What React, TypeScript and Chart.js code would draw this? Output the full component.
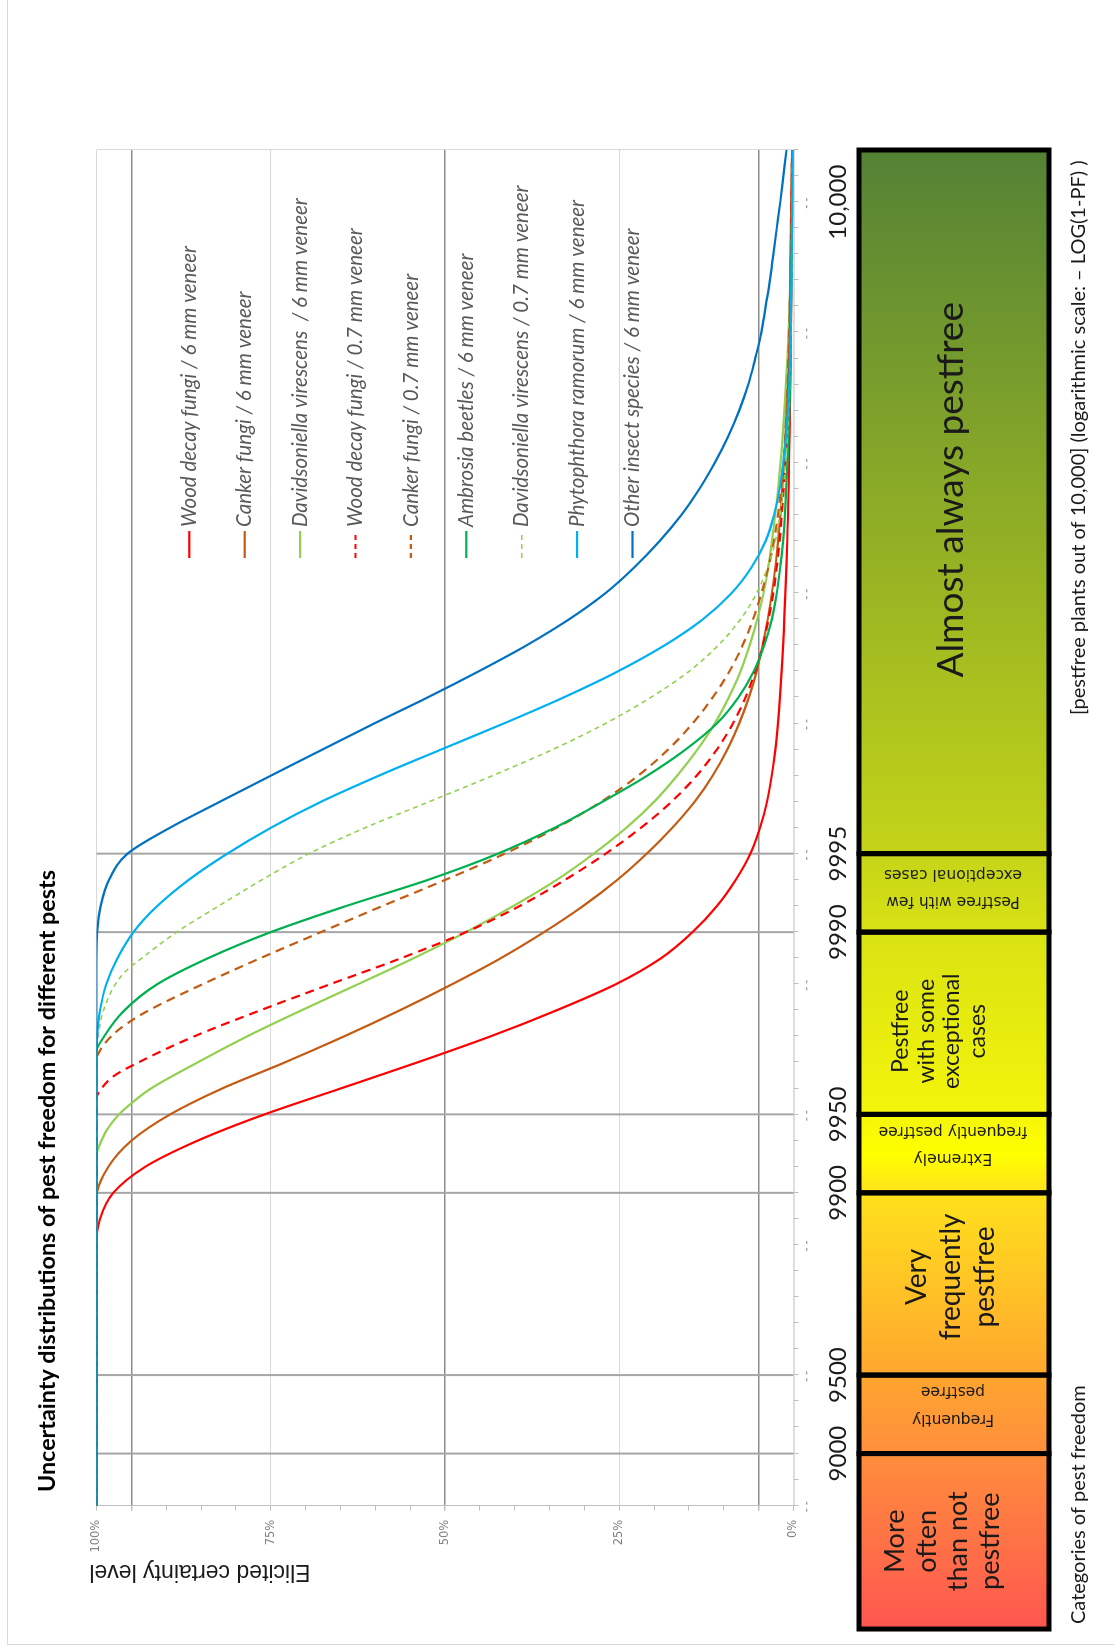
import React, { useEffect, useRef } from "react";
import { Chart, registerables } from "chart.js";

Chart.register(...registerables);

// ---------------- texts ----------------
const TITLE = "Uncertainty distributions of pest freedom for different pests";
const Y_TITLE = "Elicited certainty level";
const X_TITLE = "[pestfree plants out of 10,000] (logarithmic scale: \u2013 LOG(1-PF) )";
const CAT_TITLE = "Categories of pest freedom";

// ---------------- axes ----------------
// x value t = -log10(1 - PF/10000)
const T_MIN = 0.8;
const T_MAX = 6.0;
const X_TICK_POS = [1, 1.30103, 2, 2.30103, 3, 3.30103, 5.8];
const X_TICK_LABELS = ["9000", "9500", "9900", "9950", "9990", "9995", "10,000"];
const X_GRID_POS = [1, 1.30103, 2, 2.30103, 3, 3.30103];
const X_MINOR_STEP = 0.1;
const X_MAJOR_STEP = 0.5;
const Y_STEP = 5;
const Y_LABEL_STEP = 25;

// ---------------- categories ----------------
const CAT_EDGES = [0.327, 1, 1.30103, 2, 2.30103, 3, 3.30103, 6];
const CAT_LINES = [
  ["More", "often", "than not", "pestfree"],
  ["Frequently", "pestfree"],
  ["Very", "frequently", "pestfree"],
  ["Extremely", "frequently pestfree"],
  ["Pestfree", "with some", "exceptional", "cases"],
  ["Pestfree with few", "exceptional cases"],
  ["Almost always pestfree"],
];
const GRAD_T = [0.327, 1.0, 1.30103, 2.0, 2.15, 2.30103, 3.0, 3.30103, 6.0];
const GRAD_C = ["#ff5650", "#ff8e3c", "#ffa62e", "#ffe11c", "#ffff00", "#f4f50a", "#d9e213", "#c4d418", "#548235"];

// ---------------- series ----------------
const SERIES_NAMES = [
  "Wood decay fungi / 6 mm veneer",
  "Canker fungi / 6 mm veneer",
  "Davidsoniella virescens  / 6 mm veneer",
  "Wood decay fungi / 0.7 mm veneer",
  "Canker fungi / 0.7 mm veneer",
  "Ambrosia beetles / 6 mm veneer",
  "Davidsoniella virescens / 0.7 mm veneer",
  "Phytophthora ramorum / 6 mm veneer",
  "Other insect species / 6 mm veneer",
];
const SERIES_COLORS = ["#ff0000", "#c55a11", "#92d050", "#ff0000", "#c55a11", "#00b050", "#92d050", "#00b0f0", "#0070c0"];
const SERIES_DASHED = [false, false, false, true, true, false, true, false, false];

const WOOD6_T = [0.8, 1.8, 1.9, 2.0, 2.1, 2.2, 2.3, 2.4, 2.5, 2.6, 2.7, 2.8, 2.9, 3.0, 3.1, 3.2, 3.3, 3.4, 3.5, 3.7, 4.0, 4.5, 5.0, 5.5, 6.0];
const WOOD6_P = [100, 100, 99.5, 97.6, 93.0, 85.5, 76.0, 65.0, 54.0, 43.5, 34.0, 25.5, 19.0, 14.5, 11.0, 8.3, 6.2, 4.8, 3.8, 2.6, 1.7, 0.9, 0.5, 0.3, 0.15];

const CANKER6_T = [0.8, 1.98, 2.1, 2.2, 2.3, 2.4, 2.5, 2.6, 2.7, 2.8, 2.9, 3.0, 3.1, 3.2, 3.3, 3.4, 3.5, 3.6, 3.7, 3.8, 3.9, 4.0, 4.2, 4.5, 5.0, 5.5, 6.0];
const CANKER6_P = [100, 100, 98.3, 95.0, 89.5, 82.0, 73.0, 64.5, 56.5, 49.0, 42.0, 35.8, 30.2, 25.3, 21.1, 17.4, 14.2, 11.6, 9.5, 7.8, 6.4, 5.3, 3.7, 2.2, 1.0, 0.5, 0.2];

const DAVID6_T = [0.8, 2.14, 2.2, 2.25, 2.3, 2.35, 2.4, 2.5, 2.6, 2.7, 2.8, 2.9, 3.0, 3.1, 3.2, 3.3, 3.4, 3.5, 3.6, 3.7, 3.8, 3.9, 4.0, 4.1, 4.2, 4.3, 4.4, 4.5, 4.7, 5.0, 5.3, 5.6, 6.0];
const DAVID6_P = [100, 100, 99.3, 98.3, 96.8, 94.7, 92.2, 85.5, 78.4, 70.6, 62.5, 54.5, 47.0, 40.2, 34.0, 28.7, 24.0, 20.0, 16.7, 13.8, 11.3, 9.3, 7.6, 6.3, 5.2, 4.3, 3.6, 3.1, 2.2, 1.3, 0.7, 0.3, 0.1];

const WOOD07_T = [0.8, 2.36, 2.4, 2.45, 2.5, 2.6, 2.7, 2.8, 2.9, 3.0, 3.1, 3.2, 3.3, 3.4, 3.5, 3.6, 3.7, 3.8, 3.9, 4.0, 4.1, 4.2, 4.3, 4.4, 4.5, 4.75, 5.0, 5.5, 6.0];
const WOOD07_P = [100, 100, 99.3, 97.4, 94.0, 86.0, 76.5, 66.5, 56.3, 47.0, 39.3, 32.8, 27.0, 21.9, 17.5, 13.9, 11.0, 8.7, 6.9, 5.5, 4.4, 3.6, 2.9, 2.4, 2.0, 1.3, 0.8, 0.4, 0.2];

const CANKER07_T = [0.8, 2.51, 2.55, 2.6, 2.65, 2.7, 2.8, 2.9, 3.0, 3.1, 3.2, 3.3, 3.4, 3.5, 3.6, 3.7, 3.8, 3.9, 4.0, 4.1, 4.2, 4.3, 4.4, 4.5, 4.75, 5.0, 5.5, 6.0];
const CANKER07_P = [100, 100, 99.4, 97.9, 95.6, 92.5, 84.8, 76.5, 67.8, 59.0, 50.0, 41.5, 34.0, 27.6, 22.3, 18.0, 14.5, 11.6, 9.2, 7.3, 5.8, 4.6, 3.6, 2.8, 1.6, 1.0, 0.45, 0.2];

const AMBROSIA_T = [0.8, 2.54, 2.6, 2.7, 2.8, 2.9, 3.0, 3.1, 3.2, 3.3, 3.4, 3.5, 3.6, 3.7, 3.8, 3.9, 4.0, 4.1, 4.2, 4.3, 4.4, 4.5, 5.0, 5.5, 6.0];
const AMBROSIA_P = [100, 100, 98.9, 96.0, 91.3, 84.0, 75.0, 64.2, 52.5, 42.5, 34.3, 27.4, 21.0, 15.5, 11.0, 7.9, 5.7, 4.2, 3.1, 2.4, 1.9, 1.5, 0.6, 0.3, 0.1];

const DAVID07_T = [0.8, 2.55, 2.6, 2.7, 2.8, 2.85, 2.9, 3.0, 3.1, 3.2, 3.3, 3.4, 3.5, 3.6, 3.7, 3.8, 3.9, 4.0, 4.1, 4.2, 4.3, 4.4, 4.5, 4.75, 5.0, 5.5, 6.0];
const DAVID07_P = [100, 100, 99.8, 99.0, 97.3, 95.8, 93.5, 88.5, 82.5, 76.3, 69.6, 61.5, 52.3, 43.2, 34.6, 27.0, 20.5, 15.0, 10.8, 7.6, 5.3, 3.7, 2.6, 1.3, 0.7, 0.25, 0.1];

const PHYTO_T = [0.8, 2.5, 2.6, 2.7, 2.8, 2.9, 3.0, 3.1, 3.2, 3.3, 3.4, 3.5, 3.6, 3.7, 3.8, 3.9, 4.0, 4.1, 4.2, 4.3, 4.4, 4.5, 4.6, 4.75, 5.0, 5.5, 6.0];
const PHYTO_P = [100, 100, 99.9, 99.5, 98.6, 97.0, 94.7, 91.3, 86.8, 81.3, 75.0, 67.8, 59.5, 50.6, 41.6, 33.0, 25.2, 18.5, 13.0, 8.9, 6.0, 4.0, 2.8, 1.7, 0.8, 0.3, 0.1];

const OTHER_T = [0.8, 2.9, 3.0, 3.1, 3.2, 3.3, 3.4, 3.5, 3.6, 3.7, 3.8, 3.9, 4.0, 4.1, 4.2, 4.3, 4.4, 4.5, 4.6, 4.7, 4.8, 4.9, 5.0, 5.1, 5.2, 5.3, 5.4, 5.5, 5.6, 5.7, 5.8, 5.9, 6.0];
const OTHER_P = [100, 100, 99.9, 99.4, 98.2, 95.6, 89.5, 82.3, 75.0, 67.6, 60.2, 52.5, 45.2, 38.3, 32.2, 27.0, 22.8, 19.2, 16.1, 13.5, 11.3, 9.4, 7.8, 6.5, 5.5, 4.6, 4.0, 3.4, 2.9, 2.4, 1.9, 1.45, 1.0];

const SERIES_T = [WOOD6_T, CANKER6_T, DAVID6_T, WOOD07_T, CANKER07_T, AMBROSIA_T, DAVID07_T, PHYTO_T, OTHER_T];
const SERIES_P = [WOOD6_P, CANKER6_P, DAVID6_P, WOOD07_P, CANKER07_P, AMBROSIA_P, DAVID07_P, PHYTO_P, OTHER_P];

// ---------------- layout (unrotated frame) ----------------
const W = 1648;
const H = 1114;
const CALIBRI = '"Lato", "Open Sans", sans-serif';
const VERDANA = '"DejaVu Sans", sans-serif';

function dashFor(i: number): number[] {
  if (!SERIES_DASHED[i]) return [];
  return SERIES_COLORS[i] === "#92d050" ? [5, 4] : [9, 6];
}
function widthFor(i: number): number {
  return SERIES_DASHED[i] && SERIES_COLORS[i] === "#92d050" ? 1.6 : 2.2;
}

function txt(
  ctx: CanvasRenderingContext2D,
  s: string,
  x: number,
  y: number,
  font: string,
  color: string,
  align: CanvasTextAlign = "left",
  rot = 0,
  maxW?: number
) {
  ctx.save();
  ctx.translate(x, y);
  ctx.rotate(rot);
  ctx.font = font;
  ctx.fillStyle = color;
  ctx.textAlign = align;
  ctx.textBaseline = "middle";
  if (maxW) {
    const w = ctx.measureText(s).width;
    if (w > maxW) {
      ctx.scale(maxW / w, 1);
    }
  }
  ctx.fillText(s, 0, 0);
  ctx.restore();
}

const CAT_STYLE = [
  { size: 27, lh: 31.5, rot: false, vc: 943, du: 0, font: CALIBRI },
  { size: 15.5, lh: 28, rot: true, vc: 953, du: 9.7, font: VERDANA },
  { size: 28, lh: 34, rot: false, vc: 951, du: 7, font: CALIBRI },
  { size: 15.5, lh: 27, rot: true, vc: 953, du: 8.7, font: VERDANA },
  { size: 23, lh: 25.5, rot: false, vc: 939, du: -8, font: CALIBRI },
  { size: 15.5, lh: 27, rot: true, vc: 953, du: 5, font: VERDANA },
  { size: 37, lh: 40, rot: false, vc: 951, du: 12, font: CALIBRI },
];

const decor = {
  id: "decor",
  beforeDatasetsDraw(chart: any) {
    const { ctx, chartArea: a, scales } = chart;
    const x = scales.x;
    ctx.save();
    // category grid lines
    ctx.strokeStyle = "#a6a6a6";
    ctx.lineWidth = 2;
    for (const t of X_GRID_POS) {
      const px = x.getPixelForValue(t);
      ctx.beginPath();
      ctx.moveTo(px, a.top);
      ctx.lineTo(px, a.bottom);
      ctx.stroke();
    }
    // frame (right side = top of x range)
    ctx.strokeStyle = "#d9d9d9";
    ctx.lineWidth = 1;
    ctx.beginPath();
    ctx.moveTo(a.right + 0.5, a.top);
    ctx.lineTo(a.right + 0.5, a.bottom);
    ctx.stroke();
    // x axis line + minor ticks
    ctx.strokeStyle = "#bfbfbf";
    ctx.beginPath();
    ctx.moveTo(a.left, a.bottom + 0.5);
    ctx.lineTo(a.right, a.bottom + 0.5);
    ctx.stroke();
    const nMinor = Math.round((T_MAX - T_MIN) / X_MINOR_STEP);
    for (let k = 0; k <= nMinor; k++) {
      const px = Math.round(x.getPixelForValue(T_MIN + k * X_MINOR_STEP)) + 0.5;
      ctx.beginPath();
      ctx.moveTo(px, a.bottom);
      ctx.lineTo(px, a.bottom + 5);
      ctx.stroke();
    }
    // remnants of hidden major labels
    ctx.fillStyle = "#a0a0a0";
    const nMajor = Math.floor((T_MAX - T_MIN) / X_MAJOR_STEP + 1e-6);
    for (let k = 0; k <= nMajor; k++) {
      const px = x.getPixelForValue(T_MIN + k * X_MAJOR_STEP);
      ctx.fillRect(px - 6, 806, 3, 1.3);
      ctx.fillRect(px + 1, 806, 3, 1.3);
    }
    ctx.restore();
  },
  afterDraw(chart: any) {
    const { ctx, scales } = chart;
    const x = scales.x;
    ctx.save();

    // outer chart border
    ctx.strokeStyle = "#d9d9d9";
    ctx.lineWidth = 1;
    ctx.strokeRect(3.5, 7.5, W - 3, H - 7);

    // title
    txt(ctx, TITLE, 156, 47, `bold 23.5px ${CALIBRI}`, "#000000", "left", 0, 622);
    // y title
    txt(ctx, Y_TITLE, 77, 200, `23px "Liberation Sans", Arial, sans-serif`, "#1a1a1a", "center", -Math.PI / 2, 224);

    // x tick labels
    for (let i = 0; i < X_TICK_POS.length; i++) {
      const px = x.getPixelForValue(X_TICK_POS[i]);
      txt(ctx, X_TICK_LABELS[i], px, 838, `24px ${CALIBRI}`, "#1a1a1a", "center");
    }

    // categories band
    const v0 = 859;
    const v1 = 1049;
    const g0 = x.getPixelForValue(GRAD_T[0]);
    const g1 = x.getPixelForValue(GRAD_T[GRAD_T.length - 1]);
    const grad = ctx.createLinearGradient(g0, 0, g1, 0);
    for (let i = 0; i < GRAD_T.length; i++) {
      grad.addColorStop((x.getPixelForValue(GRAD_T[i]) - g0) / (g1 - g0), GRAD_C[i]);
    }
    ctx.fillStyle = grad;
    ctx.fillRect(g0, v0, g1 - g0, v1 - v0);
    ctx.strokeStyle = "#000000";
    ctx.lineWidth = 5;
    for (let i = 0; i < CAT_LINES.length; i++) {
      const u0 = x.getPixelForValue(CAT_EDGES[i]);
      const u1 = x.getPixelForValue(CAT_EDGES[i + 1]);
      ctx.strokeRect(u0, v0, u1 - u0, v1 - v0);
      const st = CAT_STYLE[i];
      const lines = CAT_LINES[i];
      const uc = (u0 + u1) / 2 + st.du;
      const n = lines.length;
      for (let j = 0; j < n; j++) {
        const off = (j - (n - 1) / 2) * st.lh;
        if (st.rot) {
          txt(ctx, lines[j], uc + off, st.vc, `${st.size}px ${st.font}`, "#1a1a1a", "center", -Math.PI / 2);
        } else {
          txt(ctx, lines[j], uc, st.vc + off, `${st.size}px ${st.font}`, "#1a1a1a", "center");
        }
      }
    }

    // bottom texts
    txt(ctx, CAT_TITLE, 24, 1079, `20px ${CALIBRI}`, "#1a1a1a", "left", 0, 247);
    txt(ctx, X_TITLE, 933, 1079, `20px ${CALIBRI}`, "#1a1a1a", "left", 0, 647);

    // legend
    for (let i = 0; i < SERIES_NAMES.length; i++) {
      const v = 189.3 + i * 55.4;
      ctx.save();
      ctx.strokeStyle = SERIES_COLORS[i];
      ctx.lineWidth = widthFor(i);
      ctx.setLineDash(SERIES_DASHED[i] ? [5, 4] : []);
      ctx.beginPath();
      ctx.moveTo(1090, v);
      ctx.lineTo(1117, v);
      ctx.stroke();
      ctx.restore();
      txt(ctx, SERIES_NAMES[i], 1121, v, `italic 20.5px ${CALIBRI}`, "#595959", "left");
    }
    ctx.restore();
  },
};

export default function App() {
  const ref = useRef<HTMLCanvasElement>(null);
  useEffect(() => {
    const canvas = ref.current;
    if (!canvas) return;
    const datasets = SERIES_NAMES.map((name, i) => ({
      label: name,
      data: SERIES_T[i].map((t, k) => ({ x: t, y: SERIES_P[i][k] })),
      borderColor: SERIES_COLORS[i],
      backgroundColor: SERIES_COLORS[i],
      borderWidth: widthFor(i),
      borderDash: dashFor(i),
      pointRadius: 0,
      fill: false,
      cubicInterpolationMode: "monotone" as const,
      order: SERIES_NAMES.length - i,
    }));
    const chart = new Chart(canvas, {
      type: "line",
      data: { datasets },
      options: {
        animation: false,
        responsive: false,
        devicePixelRatio: 1,
        events: [],
        layout: { padding: { left: 0, right: 150, top: 96.5, bottom: 320.5 } },
        plugins: {
          legend: { display: false },
          title: { display: false },
          tooltip: { enabled: false },
        },
        scales: {
          x: { type: "linear", min: T_MIN, max: T_MAX, display: false },
          y: {
            type: "linear",
            min: 0,
            max: 100,
            afterFit: (s: any) => {
              s.width = 142.3;
            },
            ticks: {
              stepSize: Y_STEP,
              autoSkip: false,
              padding: 9,
              color: "#7f7f7f",
              font: { family: "DejaVu Sans", size: 11.5 },
              callback: (v: any) => (Number(v) % Y_LABEL_STEP === 0 ? `${v}%` : ""),
            },
            grid: {
              color: (c: any) => {
                const v = c.tick && c.tick.value;
                if (v === 5 || v === 95 || v === 50) return "#8c8c8c";
                if (v === 25 || v === 75 || v === 100) return "#d9d9d9";
                return "rgba(0,0,0,0)";
              },
              lineWidth: (c: any) => {
                const v = c.tick && c.tick.value;
                return v === 5 || v === 95 || v === 50 ? 1.5 : 1;
              },
              tickColor: "#bfbfbf",
              tickLength: 5,
              drawTicks: true,
            },
            border: { display: true, color: "#bfbfbf", width: 1 },
          },
        },
      },
      plugins: [decor],
    } as any);
    const fonts = [`bold 23.5px ${CALIBRI}`, `24px ${CALIBRI}`, `italic 20.5px ${CALIBRI}`, `16px ${VERDANA}`, `23px "Liberation Sans"`];
    Promise.all(fonts.map((f) => (document as any).fonts.load(f)))
      .then(() => chart.update())
      .catch(() => {});
    return () => chart.destroy();
  }, []);

  return (
    <div style={{ position: "absolute", left: 0, top: 0, width: H, height: W, overflow: "hidden", background: "#ffffff" }}>
      <div
        style={{
          position: "absolute",
          left: 0,
          top: 0,
          width: W,
          height: H,
          transformOrigin: "0 0",
          transform: `translate(0px, ${W}px) rotate(-90deg)`,
        }}
      >
        <canvas ref={ref} width={W} height={H} style={{ width: W, height: H, display: "block" }} />
      </div>
    </div>
  );
}
